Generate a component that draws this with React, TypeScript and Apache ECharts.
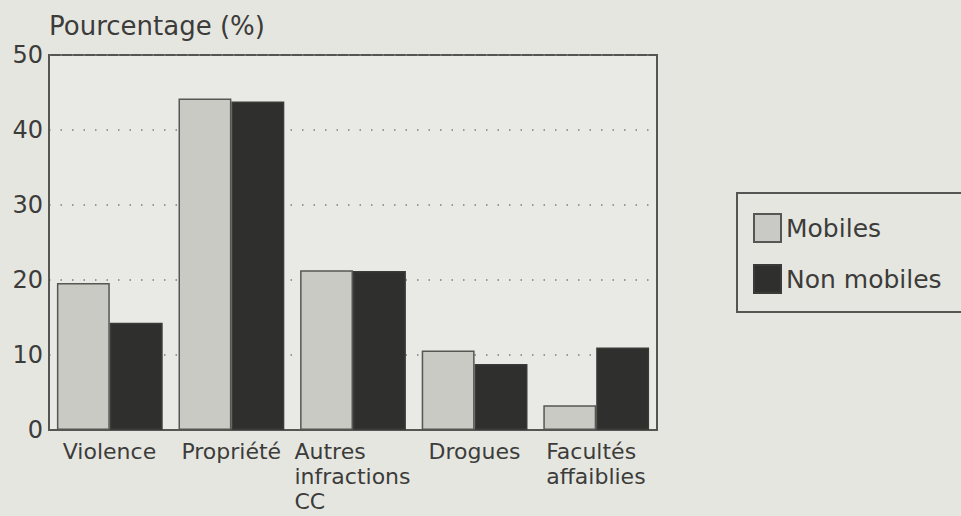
import { useEffect, useRef } from "react";
import * as echarts from "echarts";

// Offence categories (multi-line labels are split on "\n")
const categories = [
  "Violence",
  "Propriété",
  "Autres\ninfractions\nCC",
  "Drogues",
  "Facultés\naffaiblies",
];

// Share of offences (%) for each group
const mobiles = [19.6, 44.2, 21.3, 10.6, 3.3];
const nonMobiles = [14.3, 43.8, 21.2, 8.8, 11.0];

const seriesNames = ["Mobiles", "Non mobiles"];
const yAxisTitle = "Pourcentage (%)";

const FONT = '"DejaVu Sans", "Liberation Sans", Arial, sans-serif';
const TEXT = "#3c3c3a";
const FRAME = "#555553";
const LABEL_SIZE = 22;

// Width of the widest line of a label, so that lines can be left-aligned
// inside a block that stays centred under its category.
function widestLine(label: string): number {
  const canvas = document.createElement("canvas");
  const ctx = canvas.getContext("2d");
  if (!ctx) return 120;
  ctx.font = `${LABEL_SIZE}px ${FONT}`;
  return Math.ceil(
    Math.max(...label.split("\n").map((l) => ctx.measureText(l).width))
  );
}

export default function App() {
  const ref = useRef<HTMLDivElement>(null);

  useEffect(() => {
    if (!ref.current) return;
    const chart = echarts.init(ref.current, undefined, { renderer: "svg" });

    const rich: Record<string, any> = {};
    categories.forEach((c, i) => {
      rich["c" + i] = {
        width: widestLine(c),
        align: "left",
        fontSize: LABEL_SIZE,
        lineHeight: 25,
        fontFamily: FONT,
        color: TEXT,
      };
    });

    chart.setOption({
      animation: false,
      backgroundColor: "#e6e6e1",
      textStyle: { fontFamily: FONT, color: TEXT },
      grid: {
        left: 49,
        right: 304,
        top: 55,
        bottom: 86,
        show: true,
        borderColor: FRAME,
        borderWidth: 2,
        backgroundColor: "#e9e9e5",
      },
      // Legend frame: open on the right, it runs off the page edge
      graphic: [
        {
          type: "polyline",
          silent: true,
          shape: {
            points: [
              [970, 193],
              [737, 193],
              [737, 312],
              [970, 312],
            ],
          },
          style: { fill: "none", stroke: FRAME, lineWidth: 2 },
          z: 0,
        },
      ],
      legend: {
        data: seriesNames,
        orient: "vertical",
        left: 753,
        top: 213,
        padding: 0,
        itemWidth: 27,
        itemHeight: 28,
        itemGap: 21,
        icon: "rect",
        textStyle: { fontSize: 25, color: TEXT, fontFamily: FONT },
      },
      xAxis: {
        type: "category",
        data: categories,
        axisLine: { show: true, lineStyle: { color: FRAME, width: 2 } },
        axisTick: { show: false },
        axisLabel: {
          interval: 0,
          margin: 9,
          formatter: (value: string, index: number) =>
            value
              .split("\n")
              .map((line) => `{c${index}|${line}}`)
              .join("\n"),
          rich,
        },
      },
      yAxis: {
        type: "value",
        min: 0,
        max: 50,
        interval: 10,
        name: yAxisTitle,
        nameLocation: "end",
        nameGap: 29,
        nameTextStyle: {
          align: "left",
          verticalAlign: "middle",
          fontSize: 26,
          color: TEXT,
          fontFamily: FONT,
        },
        axisLine: { show: true, lineStyle: { color: FRAME, width: 2 } },
        axisTick: { show: false },
        axisLabel: { fontSize: 24, color: TEXT, margin: 6, fontFamily: FONT },
        splitLine: {
          show: true,
          lineStyle: { color: "#7d7d7a", width: 1.5, type: [1.5, 10] },
        },
      },
      series: [
        {
          name: seriesNames[0],
          type: "bar",
          data: mobiles,
          barGap: "0%",
          barCategoryGap: "13%",
          itemStyle: {
            color: "#c9cac3",
            borderColor: "#565654",
            borderWidth: 1.5,
          },
        },
        {
          name: seriesNames[1],
          type: "bar",
          data: nonMobiles,
          barGap: "0%",
          barCategoryGap: "13%",
          itemStyle: {
            color: "#2f2f2d",
            borderColor: "#3a3a38",
            borderWidth: 1.5,
          },
        },
      ],
    });

    return () => chart.dispose();
  }, []);

  return (
    <div
      ref={ref}
      style={{ position: "fixed", left: 0, top: 0, width: 961, height: 516 }}
    />
  );
}
